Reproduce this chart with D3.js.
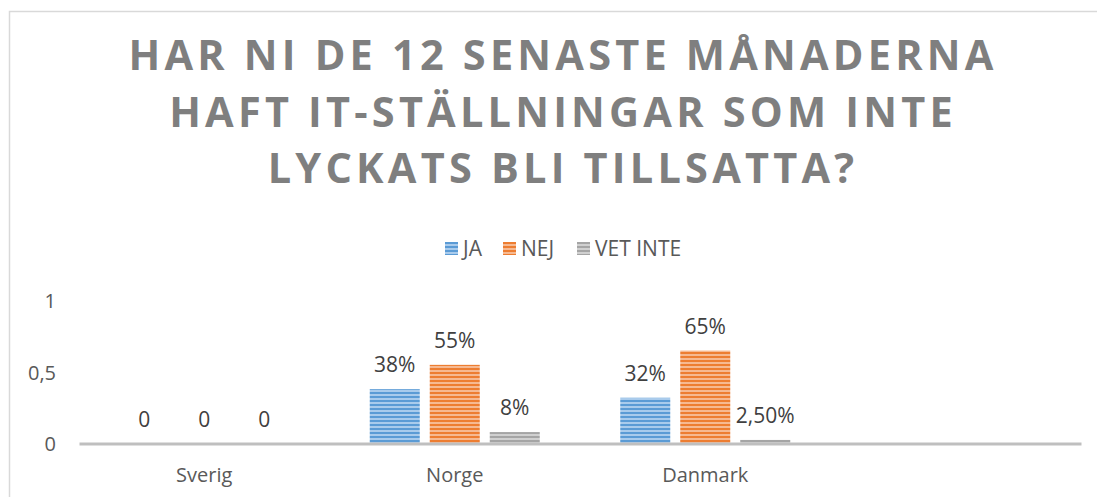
<!DOCTYPE html>
<html>
<head>
<meta charset="utf-8">
<script src="https://cdn.jsdelivr.net/npm/d3@7"></script>
<style>
  body { margin: 0; background: #fff; }
  text { font-family: "Open Sans", "DejaVu Sans", sans-serif; }
</style>
</head>
<body>
<svg id="graph"></svg>
<script>
// data
let categories = ["Sverig", "Norge", "Danmark", ""]
let series = ["JA", "NEJ", "VET INTE"]
let ja = [0, 0.38, 0.32]
let nej = [0, 0.55, 0.65]
let vetinte = [0, 0.08, 0.025]
let jaLabels = ["0", "38%", "32%"]
let nejLabels = ["0", "55%", "65%"]
let vetinteLabels = ["0", "8%", "2,50%"]
let yticks = [0, 0.5, 1]
let titleLines = ["HAR NI DE 12 SENASTE MÅNADERNA", "HAFT IT-STÄLLNINGAR SOM INTE", "LYCKATS BLI TILLSATTA?"]

let colors = [
    {dark: "#5b9bd5", light: "#a9cbec"},
    {dark: "#ed7d31", light: "#f6b991"},
    {dark: "#a5a5a5", light: "#d0d0d0"}
]

let w = 1097
let h = 497

let leftmargin = 79
let rightx = 1081
let basey = 443.5
let topy = 300.5

let graph = d3.select("#graph")
    .attr("width", w)
    .attr("height", h)

// striped fills
let defs = graph.append("defs")
colors.forEach((c, i) => {
    let p = defs.append("pattern")
        .attr("id", "stripe" + i)
        .attr("patternUnits", "userSpaceOnUse")
        .attr("width", 8)
        .attr("height", 4)
    p.append("rect").attr("width", 8).attr("height", 4).attr("fill", c.light)
    p.append("rect").attr("width", 8).attr("height", 2).attr("fill", c.dark)
})

// chart frame
graph.append("rect")
    .attr("x", 9.5).attr("y", 11.5)
    .attr("width", 1100).attr("height", 500)
    .attr("fill", "none")
    .attr("stroke", "#d9d9d9")
    .attr("stroke-width", 1.5)

// title
graph.append("g").selectAll("text")
    .data(titleLines)
    .enter().append("text")
    .text(d => d)
    .attr("x", 563)
    .attr("y", (d, i) => 70 + i * 56.5)
    .attr("text-anchor", "middle")
    .style("font-size", "41.5px")
    .style("font-weight", "bold")
    .style("letter-spacing", "4.2px")
    .style("fill", "#7f7f7f")

// legend
let legendx = [445, 503, 577]
let legend = graph.append("g").selectAll("g")
    .data(series)
    .enter().append("g")
    .attr("transform", (d, i) => `translate(${legendx[i]},242)`)
legend.append("rect")
    .attr("width", 13).attr("height", 13)
    .attr("fill", (d, i) => `url(#stripe${i})`)
legend.append("text")
    .text(d => d)
    .attr("x", 18).attr("y", 14)
    .style("font-size", "21px")
    .style("fill", "#595959")

let xscale = d3.scaleBand()
    .domain(categories)
    .range([leftmargin, rightx])

let inner = d3.scaleBand()
    .domain(series)
    .range([-90, 90])
    .paddingInner(1 / 6)
    .paddingOuter(1 / 12)

let yscale = d3.scaleLinear()
    .domain([0, 1])
    .range([basey, topy])

// y axis labels only
let yaxis = d3.axisLeft(yscale).tickValues(yticks).tickSize(0).tickPadding(0)
    .tickFormat(d => d3.format(".1~f")(d).replace(".", ","))
let yaxisg = graph.append("g")
    .attr("transform", "translate(56,1)")
    .call(yaxis)
yaxisg.select(".domain").remove()
yaxisg.selectAll("text")
    .style("font-size", "20px")
    .style("fill", "#595959")
    .style("font-family", "'Open Sans', sans-serif")

let table = [ja, nej, vetinte]
let labels = [jaLabels, nejLabels, vetinteLabels]
let rows = []
categories.slice(0, 3).forEach((c, ci) => {
    series.forEach((s, si) => {
        rows.push({cat: c, ser: s, si: si, value: table[si][ci], label: labels[si][ci]})
    })
})

let bars = graph.append("g").selectAll("g")
    .data(rows)
    .enter().append("g")
    .attr("transform", d => `translate(${xscale(d.cat) + xscale.bandwidth() / 2 + inner(d.ser)},0)`)

bars.append("rect")
    .attr("y", d => yscale(d.value))
    .attr("width", inner.bandwidth())
    .attr("height", d => basey - yscale(d.value))
    .style("fill", d => `url(#stripe${d.si})`)

bars.append("text")
    .text(d => d.label)
    .attr("x", inner.bandwidth() / 2)
    .attr("y", d => yscale(d.value) - 17)
    .attr("text-anchor", "middle")
    .style("font-size", "21px")
    .style("fill", "#404040")

// x axis
let xaxis = d3.axisBottom(xscale).tickSize(0).tickPadding(24)
let xaxisg = graph.append("g")
    .attr("transform", `translate(0,${basey})`)
    .call(xaxis)
xaxisg.select(".domain")
    .attr("stroke", "#bfbfbf")
    .attr("stroke-width", 3)
xaxisg.selectAll("text")
    .style("font-size", "20px")
    .style("fill", "#595959")
    .style("font-family", "'Open Sans', sans-serif")
</script>
</body>
</html>
